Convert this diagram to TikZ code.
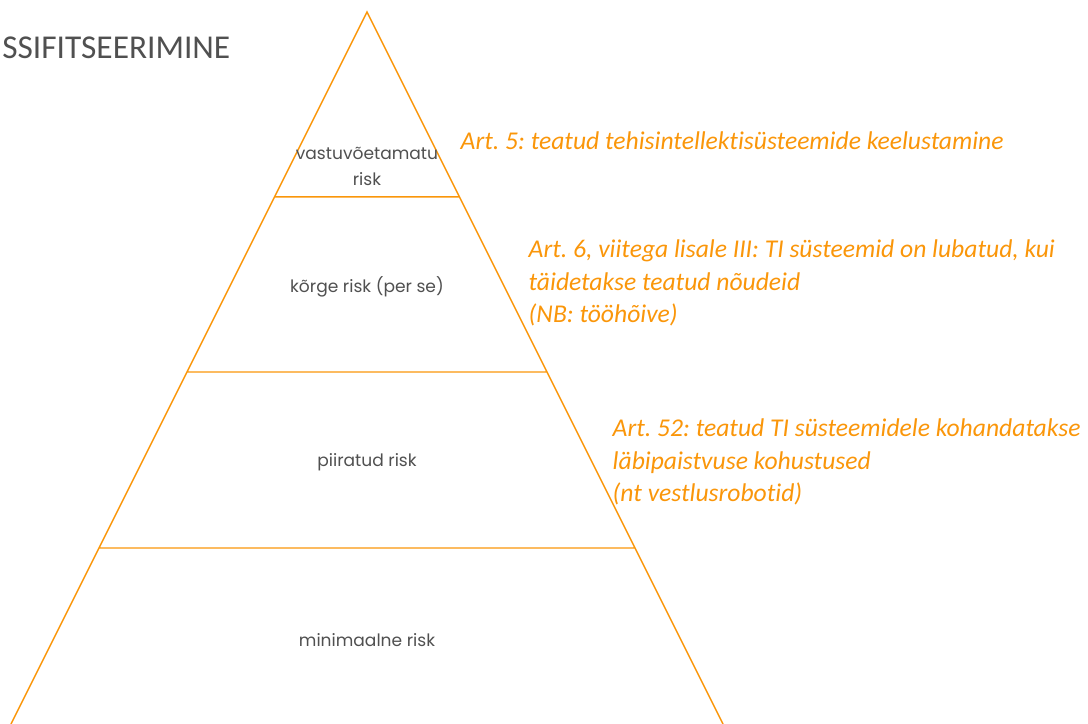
\documentclass[tikz,border=0pt]{standalone}
\usepackage{fontspec}
\setmainfont{Carlito}[Ligatures=NoCommon]
\newfontfamily\gothic{Poppins}
\usetikzlibrary{calc}
\definecolor{riskorange}{RGB}{250,150,10}
\definecolor{riskgray}{RGB}{80,80,80}
\tikzset{
  level/.style={font=\gothic\fontsize{12.8}{19.5}\selectfont,text=riskgray,align=center},
  article/.style={font=\itshape\fontsize{19.2}{24.3}\selectfont,text=riskorange,anchor=west,align=left,inner sep=0pt}
}
\frenchspacing
\begin{document}
\begin{tikzpicture}[x=0.75pt,y=-0.75pt,line width=1.1pt]
\useasboundingbox (0,0) rectangle (1088,724);
\coordinate (T) at (367,12);
\coordinate (L) at (11,724);
\coordinate (R) at (723,724);
\coordinate (L1) at ($(T)!0.2598!(L)$);
\coordinate (R1) at ($(T)!0.2598!(R)$);
\coordinate (L2) at ($(T)!0.5056!(L)$);
\coordinate (R2) at ($(T)!0.5056!(R)$);
\coordinate (L3) at ($(T)!0.7528!(L)$);
\coordinate (R3) at ($(T)!0.7528!(R)$);
\draw[riskorange](L)--(T)--(R)(L1)--(R1)(L2)--(R2)(L3)--(R3);
% pyramid levels
\node[level] (unacc) at (367,166) {vastuvõetamatu\\risk};
\node[level] (high) at (367,287) {kõrge risk (per se)};
\node[level] (limited) at (367,462) {piiratud risk};
\node[level] (minimal) at (367,640) {minimaalne risk};
% articles
\node[article] (art5) at (460,141) {Art. 5: teatud tehisintellektisüsteemide keelustamine};
\node[article] (art6) at (528,283) {Art. 6, viitega lisale III: TI süsteemid on lubatud, kui\\täidetakse teatud nõudeid\\(NB: tööhõive)};
\node[article] (art52) at (612,462) {Art. 52: teatud TI süsteemidele kohandatakse\\läbipaistvuse kohustused\\(nt vestlusrobotid)};
\node[font=\fontsize{25}{28}\selectfont,text=riskgray,anchor=east,inner sep=0pt] (title) at (231,48) {SSIFITSEERIMINE};
\end{tikzpicture}
\end{document}
